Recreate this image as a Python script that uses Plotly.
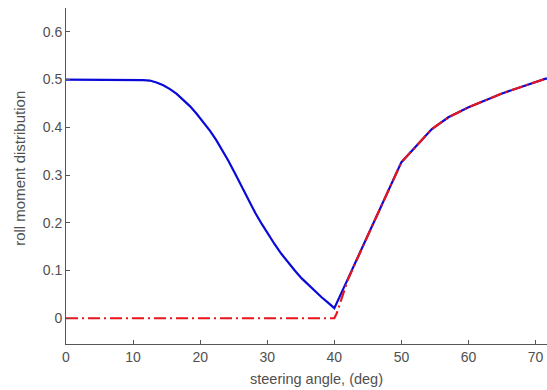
import plotly.graph_objects as go

# steering angle (deg) and roll moment distribution, blue solid curve
angle_blue = [0, 5, 10, 11.5, 12.5, 13.5, 14.5, 15.5, 16.5, 17.5, 18.5, 19.5,
              20.5, 21.5, 22.4, 23.2, 24.2, 25.2, 26.2, 27.2, 28.2, 29.2,
              30.2, 31.1, 32.1, 33.1, 34.1, 35.1, 36.1, 37.1, 38.1, 39.1, 40,
              42, 45, 50, 54.5, 57, 60, 62.5, 65, 67.5, 70, 71.5, 72]
rmd_blue = [0.5, 0.5, 0.5, 0.499, 0.498, 0.494, 0.488, 0.480, 0.470, 0.458,
            0.444, 0.428, 0.411, 0.392, 0.373, 0.355, 0.330, 0.303, 0.275,
            0.247, 0.221, 0.197, 0.174, 0.155, 0.135, 0.117, 0.100, 0.084,
            0.070, 0.057, 0.044, 0.032, 0.021,
            0.082, 0.174, 0.327, 0.396, 0.421, 0.442, 0.457, 0.471, 0.483,
            0.495, 0.502, 0.502]

# red dash-dot curve
angle_red = [0, 40, 40.35, 42, 45, 50, 54.5, 57, 60, 62.5, 65, 67.5, 70,
             71.5, 72]
rmd_red = [0, 0, 0.01, 0.08, 0.174, 0.327, 0.396, 0.421, 0.442, 0.457,
           0.471, 0.483, 0.495, 0.502, 0.502]

x_ticks = [0, 10, 20, 30, 40, 50, 60, 70]
y_ticks = [0, 0.1, 0.2, 0.3, 0.4, 0.5, 0.6]
y_labels = ["0", "0.1", "0.2", "0.3", "0.4", "0.5", "0.6"]

FONT = "Liberation Sans, Arial, sans-serif"
TEXT = "#505050"

fig = go.Figure()
fig.add_trace(go.Scatter(x=angle_blue, y=rmd_blue, mode="lines",
                         line=dict(color="#0a0ad8", width=2.2)))
fig.add_trace(go.Scatter(x=angle_red, y=rmd_red, mode="lines",
                         line=dict(color="#e8161b", width=2.2,
                                   dash="12px,4px,2px,4px")))

tick_font = dict(family=FONT, size=14, color=TEXT)
fig.update_layout(
    width=547, height=390,
    margin=dict(l=66, r=0, t=8, b=46),
    plot_bgcolor="white", paper_bgcolor="white",
    showlegend=False,
    xaxis=dict(range=[0, 71.7], tickvals=x_ticks, ticks="inside", ticklen=4,
               tickcolor="#555", showline=True, linecolor="#555", linewidth=1,
               showgrid=False, zeroline=False, tickfont=tick_font),
    yaxis=dict(range=[-0.054, 0.65], tickvals=y_ticks, ticktext=y_labels,
               ticks="inside", ticklen=4, tickcolor="#555",
               showline=True, linecolor="#555", linewidth=1,
               showgrid=False, zeroline=False, tickfont=tick_font),
    annotations=[
        dict(text="steering angle, (deg)", xref="x", x=37.3, yref="paper", y=0,
             xanchor="center", yanchor="middle", yshift=-35, showarrow=False,
             font=dict(family=FONT, size=14.5, color=TEXT)),
        dict(text="roll moment distribution", xref="paper", x=0, yref="y",
             y=0.313, xanchor="center", yanchor="middle", xshift=-46,
             textangle=-90, showarrow=False,
             font=dict(family=FONT, size=15, color=TEXT)),
    ],
)

fig.write_html("out.html")
